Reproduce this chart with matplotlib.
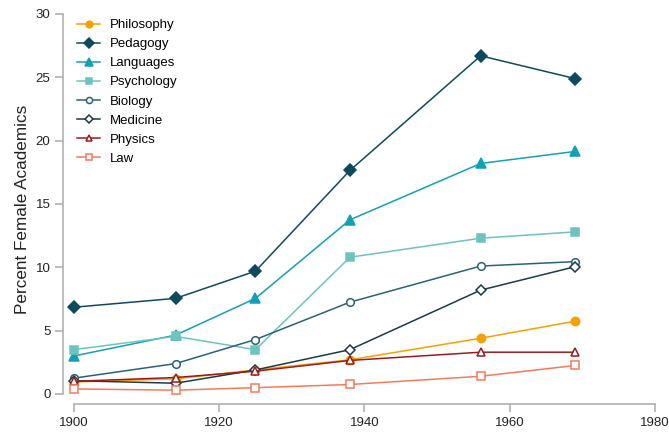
import matplotlib
matplotlib.use("Agg")
import matplotlib.pyplot as plt

years = [1900, 1914, 1925, 1938, 1956, 1969]
series_names = ["Philosophy", "Pedagogy", "Languages", "Psychology",
                "Biology", "Medicine", "Physics", "Law"]
philosophy = [0.95, 1.2, 1.9, 2.7, 4.4, 5.75]
pedagogy = [6.85, 7.55, 9.7, 17.65, 26.7, 24.9]
languages = [3.0, 4.65, 7.55, 13.75, 18.2, 19.15]
psychology = [3.5, 4.55, 3.5, 10.8, 12.3, 12.8]
biology = [1.25, 2.4, 4.3, 7.25, 10.1, 10.45]
medicine = [1.05, 0.85, 1.9, 3.5, 8.2, 10.05]
physics = [1.0, 1.3, 1.8, 2.65, 3.3, 3.3]
law = [0.4, 0.3, 0.5, 0.75, 1.4, 2.25]
values = [philosophy, pedagogy, languages, psychology, biology, medicine, physics, law]

colors = ["#f5a100", "#0d4a5e", "#14a0b4", "#6dc3be", "#2a6275", "#1c3b45", "#9a1b1e", "#f47b5a"]
markers = ["o", "D", "^", "s", "o", "D", "^", "s"]
filled = [True, True, True, True, False, False, False, False]
msizes = [6, 6, 6.5, 6, 5.5, 5.5, 6, 5.5]

plt.rcParams['font.family'] = ['Liberation Sans', 'DejaVu Sans']
fig = plt.figure(figsize=(6.69, 4.33), dpi=100)
ax = fig.add_axes([63/669, (433-404)/433, 592/669, (404-14)/433])

for name, vals, c, m, f, ms in zip(series_names, values, colors, markers, filled, msizes):
    ax.plot(years, vals, color=c, marker=m, markersize=ms, linewidth=1.1,
            markerfacecolor=c if f else "white", markeredgecolor=c,
            markeredgewidth=1.1, label=name)

ax.set_xlim(1898.5, 1980)
ax.set_ylim(-0.79, 30)
ax.spines['top'].set_visible(False)
ax.spines['right'].set_visible(False)
ax.spines['left'].set_bounds(0, 30)
ax.spines['bottom'].set_bounds(1900, 1980)
for s in ['left', 'bottom']:
    ax.spines[s].set_color('#b0b0b0')
    ax.spines[s].set_linewidth(1.2)
ax.set_xticks([1900, 1920, 1940, 1960, 1980])
ax.set_yticks([0, 5, 10, 15, 20, 25, 30])
ax.tick_params(axis='both', colors='#b0b0b0', labelcolor='#222222', length=6, width=1.2,
               labelsize=9.5, pad=3)
ax.set_ylabel("Percent Female Academics", fontsize=12.3, color='#222222', labelpad=4)

leg = ax.legend(loc='upper left', bbox_to_anchor=(10/592, 1.0 - 1/390), frameon=False,
                fontsize=9.5, handlelength=1.75, labelspacing=0.52, borderaxespad=0.0,
                borderpad=0.3, handletextpad=0.75, markerscale=0.8)

fig.savefig("out.png", dpi=100)
